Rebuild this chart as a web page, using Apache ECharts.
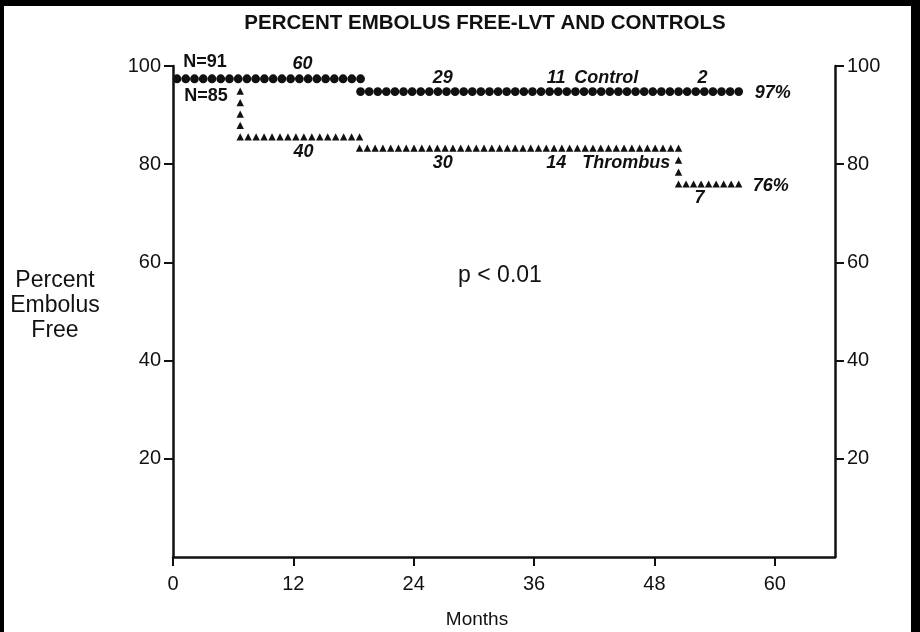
<!DOCTYPE html>
<html>
<head>
<meta charset="utf-8">
<script src="https://cdn.jsdelivr.net/npm/echarts@6/dist/echarts.min.js"></script>
<style>
  body { margin: 0; background: #000; }
  #chart { position: absolute; left: 4px; top: 6px; width: 907px; height: 626px; background: #fff; }
</style>
</head>
<body>
<div id="chart"></div>
<script>
// step curves, [month, percent]
var controlSteps = [[0.4, 97.4], [18.7, 97.4], [18.7, 94.8], [56.4, 94.8]];
var thrombusSteps = [[6.7, 94.7], [6.7, 85.4], [18.6, 85.4], [18.6, 83.1], [50.4, 83.1], [50.4, 75.8], [56.4, 75.8]];

var monthTicks = [0, 12, 24, 36, 48, 60];
var percentTicks = [20, 40, 60, 80, 100];

// text on the plot, [month, percent, text]
var groupSizes = [[3.2, 100.8, 'N=91'], [3.3, 93.9, 'N=85']];
var atRisk = [[12.9, 100.4, '60'], [26.9, 97.6, '29'], [38.2, 97.6, '11'], [52.8, 97.6, '2'],
              [13.0, 82.5, '40'], [26.9, 80.2, '30'], [38.2, 80.2, '14'], [52.5, 73.1, '7']];
var curveNames = [[43.2, 97.6, 'Control'], [45.2, 80.2, 'Thrombus'], [59.8, 94.5, '97%'], [59.6, 75.6, '76%']];
var pValue = [[32.6, 57.2, 'p < 0.01']];

var ink = '#111';
var font = 'Liberation Sans, Arial, Helvetica, sans-serif';

function toSegments(steps) {
    var segs = [];
    for (var i = 0; i < steps.length - 1; i++) {
        segs.push([steps[i][0], steps[i][1], steps[i + 1][0], steps[i + 1][1]]);
    }
    return segs;
}

// draws a row of markers along each segment, like a dotted line
function markerRow(drawMarker, gapX, gapY) {
    return function (params, api) {
        var a = api.coord([api.value(0), api.value(1)]);
        var b = api.coord([api.value(2), api.value(3)]);
        var dx = b[0] - a[0], dy = b[1] - a[1];
        var vertical = Math.abs(dy) > Math.abs(dx);
        var n = Math.max(1, Math.round(Math.abs(vertical ? dy : dx) / (vertical ? gapY : gapX)));
        var kids = [];
        for (var i = params.dataIndex === 0 ? 0 : 1; i <= n; i++) {
            kids.push(drawMarker(a[0] + dx * i / n, a[1] + dy * i / n));
        }
        return { type: 'group', children: kids };
    };
}

function dot(x, y) {
    return { type: 'circle', shape: { cx: x, cy: y, r: 4.4 }, style: { fill: ink } };
}
function tri(x, y) {
    return { type: 'polygon', shape: { points: [[x, y - 4.4], [x - 3.7, y + 2.8], [x + 3.7, y + 2.8]] }, style: { fill: ink } };
}

function textSeries(data, style) {
    return {
        type: 'scatter',
        data: data,
        symbolSize: 0,
        clip: false,
        silent: true,
        itemStyle: { color: ink, opacity: 1 },
        label: Object.assign({
            show: true,
            position: 'inside',
            color: ink,
            textBorderWidth: 0,
            fontFamily: font,
            formatter: function (p) { return p.value[2]; }
        }, style)
    };
}

function yAxisOf(pos) {
    return {
        type: 'value',
        position: pos,
        min: 0,
        max: 100,
        splitLine: { show: false },
        axisLine: { show: true, lineStyle: { color: ink, width: 2.5 } },
        axisTick: { show: true, length: 9, customValues: percentTicks, lineStyle: { color: ink, width: 2 } },
        axisLabel: { customValues: percentTicks, fontSize: 20, color: ink, fontFamily: font, margin: 12 }
    };
}

var chart = echarts.init(document.getElementById('chart'));

chart.setOption({
    animation: false,
    title: {
        text: 'PERCENT EMBOLUS FREE-LVT AND CONTROLS',
        left: 481,
        top: 7,
        padding: 0,
        textAlign: 'center',
        textStyle: { fontSize: 20.5, fontWeight: 'bold', color: ink, fontFamily: font }
    },
    grid: { left: 169, top: 60, right: 76, bottom: 75, outerBoundsMode: 'none', containLabel: false },
    xAxis: {
        type: 'value',
        min: 0,
        max: 66,
        splitLine: { show: false },
        axisLine: { lineStyle: { color: ink, width: 2.5 } },
        axisTick: { length: 9, customValues: monthTicks, lineStyle: { color: ink, width: 2 } },
        axisLabel: { customValues: monthTicks, fontSize: 20, color: ink, fontFamily: font, margin: 17 }
    },
    yAxis: [yAxisOf('left'), yAxisOf('right')],
    graphic: [{
        type: 'text',
        x: 51,
        y: 300,
        style: {
            text: 'Percent\nEmbolus\nFree',
            align: 'center',
            verticalAlign: 'middle',
            fontSize: 23,
            lineHeight: 25,
            fill: ink,
            fontFamily: font
        }
    }, {
        type: 'text',
        x: 473,
        y: 614,
        style: {
            text: 'Months',
            align: 'center',
            verticalAlign: 'middle',
            fontSize: 19,
            fill: ink,
            fontFamily: font
        }
    }],
    series: [
        {
            name: 'Control',
            type: 'custom',
            coordinateSystem: 'cartesian2d',
            data: toSegments(controlSteps),
            encode: { x: [0, 2], y: [1, 3] },
            clip: false,
            renderItem: markerRow(dot, 8.6, 11)
        },
        {
            name: 'Thrombus',
            type: 'custom',
            coordinateSystem: 'cartesian2d',
            data: toSegments(thrombusSteps),
            encode: { x: [0, 2], y: [1, 3] },
            clip: false,
            renderItem: markerRow(tri, 7.8, 11.5)
        },
        textSeries(groupSizes, { fontSize: 18, fontWeight: 'bold' }),
        textSeries(atRisk, { fontSize: 18, fontWeight: 'bold', fontStyle: 'italic' }),
        textSeries(curveNames, { fontSize: 18, fontWeight: 'bold', fontStyle: 'italic' }),
        textSeries(pValue, { fontSize: 23 })
    ]
});
</script>
</body>
</html>
